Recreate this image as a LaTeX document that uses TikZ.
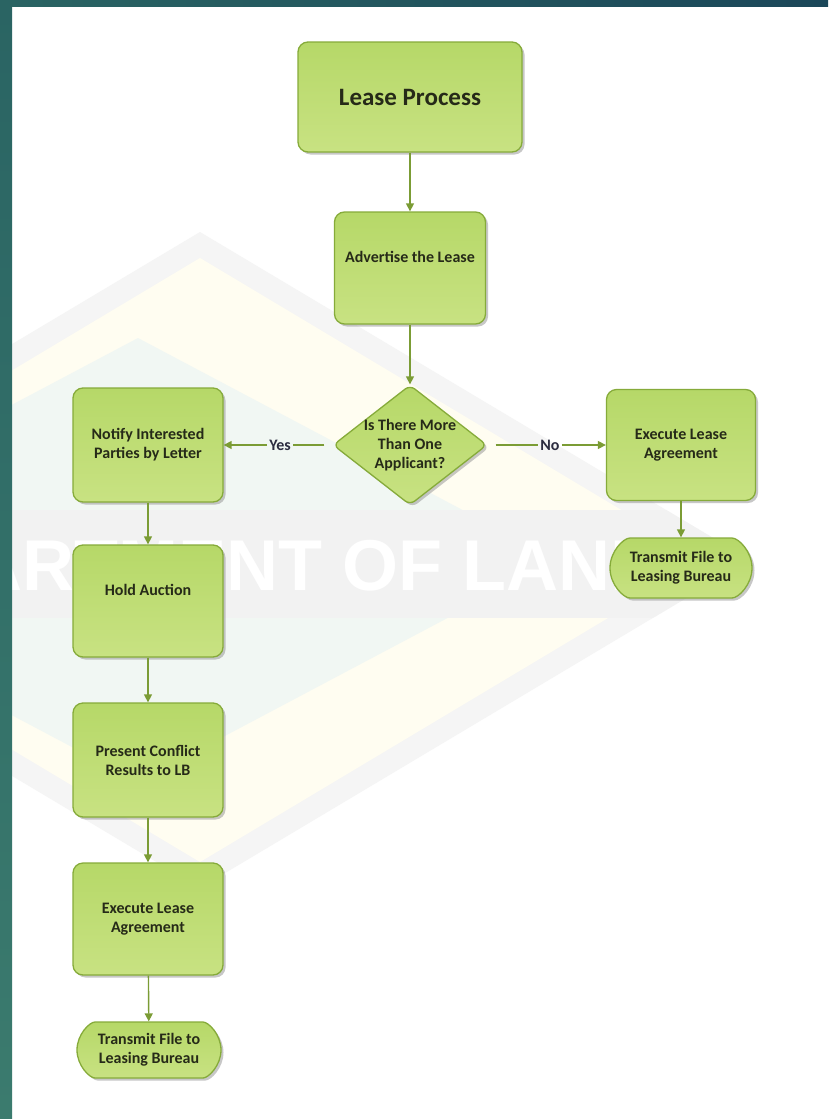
\documentclass[tikz,border=0pt]{standalone}
\usepackage{fontspec}
\setmainfont{Carlito}
\newfontfamily\wmfont{Liberation Sans}
\usepackage{tikz}
\usetikzlibrary{graphs}
\usetikzlibrary {arrows.meta}
\usetikzlibrary{shapes.geometric}
\usetikzlibrary{shapes.misc}
\usetikzlibrary{shadows}

\definecolor{leafdark}{HTML}{86AB3A}
\definecolor{leaftop}{HTML}{B6D868}
\definecolor{leafbot}{HTML}{C8E282}
\definecolor{flowline}{HTML}{7B9C35}
\definecolor{inktext}{HTML}{262A18}
\definecolor{labelink}{HTML}{2C2C40}
\definecolor{wmgray}{HTML}{F5F5F5}
\definecolor{wmyellow}{HTML}{FFFDF1}
\definecolor{wmmint}{HTML}{F1F7F3}
\definecolor{wmband}{HTML}{F2F2F2}
\definecolor{tealtop}{HTML}{2A6463}
\definecolor{tealbot}{HTML}{3B7B6E}
\definecolor{tealright}{HTML}{1B4759}

\tikzset{
    leafbox/.style={draw=leafdark, line width=1.3pt, top color=leaftop,
        bottom color=leafbot, rounded corners=10pt, text=inktext,
        font=\bfseries\fontsize{16}{19}\selectfont, align=center, inner sep=3pt,
        drop shadow={shadow xshift=2.5pt, shadow yshift=-2.5pt, fill=black!40,
            opacity=0.55}},
    stepbox/.style={leafbox, minimum width=150pt, minimum height=112pt},
    raised/.style={text depth=22pt},
    endbox/.style={leafbox, rounded rectangle, minimum width=150pt,
        minimum height=58pt},
    askbox/.style={leafbox, diamond, rounded corners=6pt, aspect=1.28,
        inner sep=-7pt, minimum width=154pt, minimum height=120pt},
    answer/.style={text=labelink, font=\bfseries\fontsize{16}{19}\selectfont,
        inner sep=2pt},
    flowline/.style={draw=flowline, line width=1.4pt}
}

\begin{document}
\begin{tikzpicture}[x=1pt, y=-1pt, >={Triangle[length=8pt, width=8pt]}]
        \useasboundingbox (0,0) rectangle (828,1119);
        \fill[white] (0,0) rectangle (828,1119);

        % faint background watermark
        \begin{scope}
            \clip (0,0) rectangle (828,1119);
            \fill[wmgray] (200,232) -- (750,560) -- (200,888) -- (-350,560) -- cycle;
            \fill[wmyellow] (200,258) -- (705,560) -- (200,862) -- (-305,560) -- cycle;
            \fill[wmmint] (138,338) -- (557,560) -- (138,782) -- (-281,560) -- cycle;
            \clip (200,232) -- (750,560) -- (200,888) -- (-350,560) -- cycle;
            \fill[wmband] (0,510) rectangle (828,618);
            \node[anchor=base west, text=white, inner sep=0pt,
                font=\wmfont\bfseries\fontsize{72}{72}\selectfont]
                (wmark) at (-172,590) {DEPARTMENT OF LANDS};
        \end{scope}

        \node[leafbox, minimum width=224pt, minimum height=110pt,
            font=\bfseries\fontsize{25}{30}\selectfont] (lease) at (410,97)
            {Lease Process}; \node[stepbox, raised, minimum width=151pt]
        (advertise) at (410,268) {Advertise the Lease}; \node[askbox]
        (question) at (410,445) {Is There More\\Than One\\Applicant?};

        \node[stepbox, minimum height=114pt] (notify) at (148,445)
            {Notify Interested\\Parties by Letter}; \node[stepbox, raised]
        (auction) at (148,601) {Hold Auction}; \node[stepbox,
            minimum height=114pt] (conflict) at (148,760)
            {Present Conflict\\Results to LB}; \node[stepbox] (executeL) at
        (148,919) {Execute Lease\\Agreement}; \node[endbox, minimum height=56pt]
        (transmitL) at (149,1050) {Transmit File to\\Leasing Bureau};

        \node[stepbox, minimum width=149pt, minimum height=111pt] (executeR)
        at (681,445) {Execute Lease\\Agreement}; \node[endbox, minimum width=148pt,
            minimum height=60pt] (transmitR) at (681,568)
            {Transmit File to\\Leasing Bureau};

        \node[answer] (yes) at (280,445) {Yes}; \node[answer] (no) at (550,445)
            {No};

        \graph[edges={flowline}] {(lease) -> (advertise) -> (question);
            (question) --[shorten <=8pt] (yes) -> (notify) -> (auction) ->
            (conflict) -> (executeL) -> (transmitL); (question) --[shorten
            <=8pt] (no) -> (executeR) -> (transmitR);};

        % slide frame
        \fill[top color=tealtop, bottom color=tealbot] (0,0) rectangle (12,1119);
        \fill[left color=tealtop, right color=tealright] (0,0) rectangle (828,6);
    \end{tikzpicture}
\end{document}
